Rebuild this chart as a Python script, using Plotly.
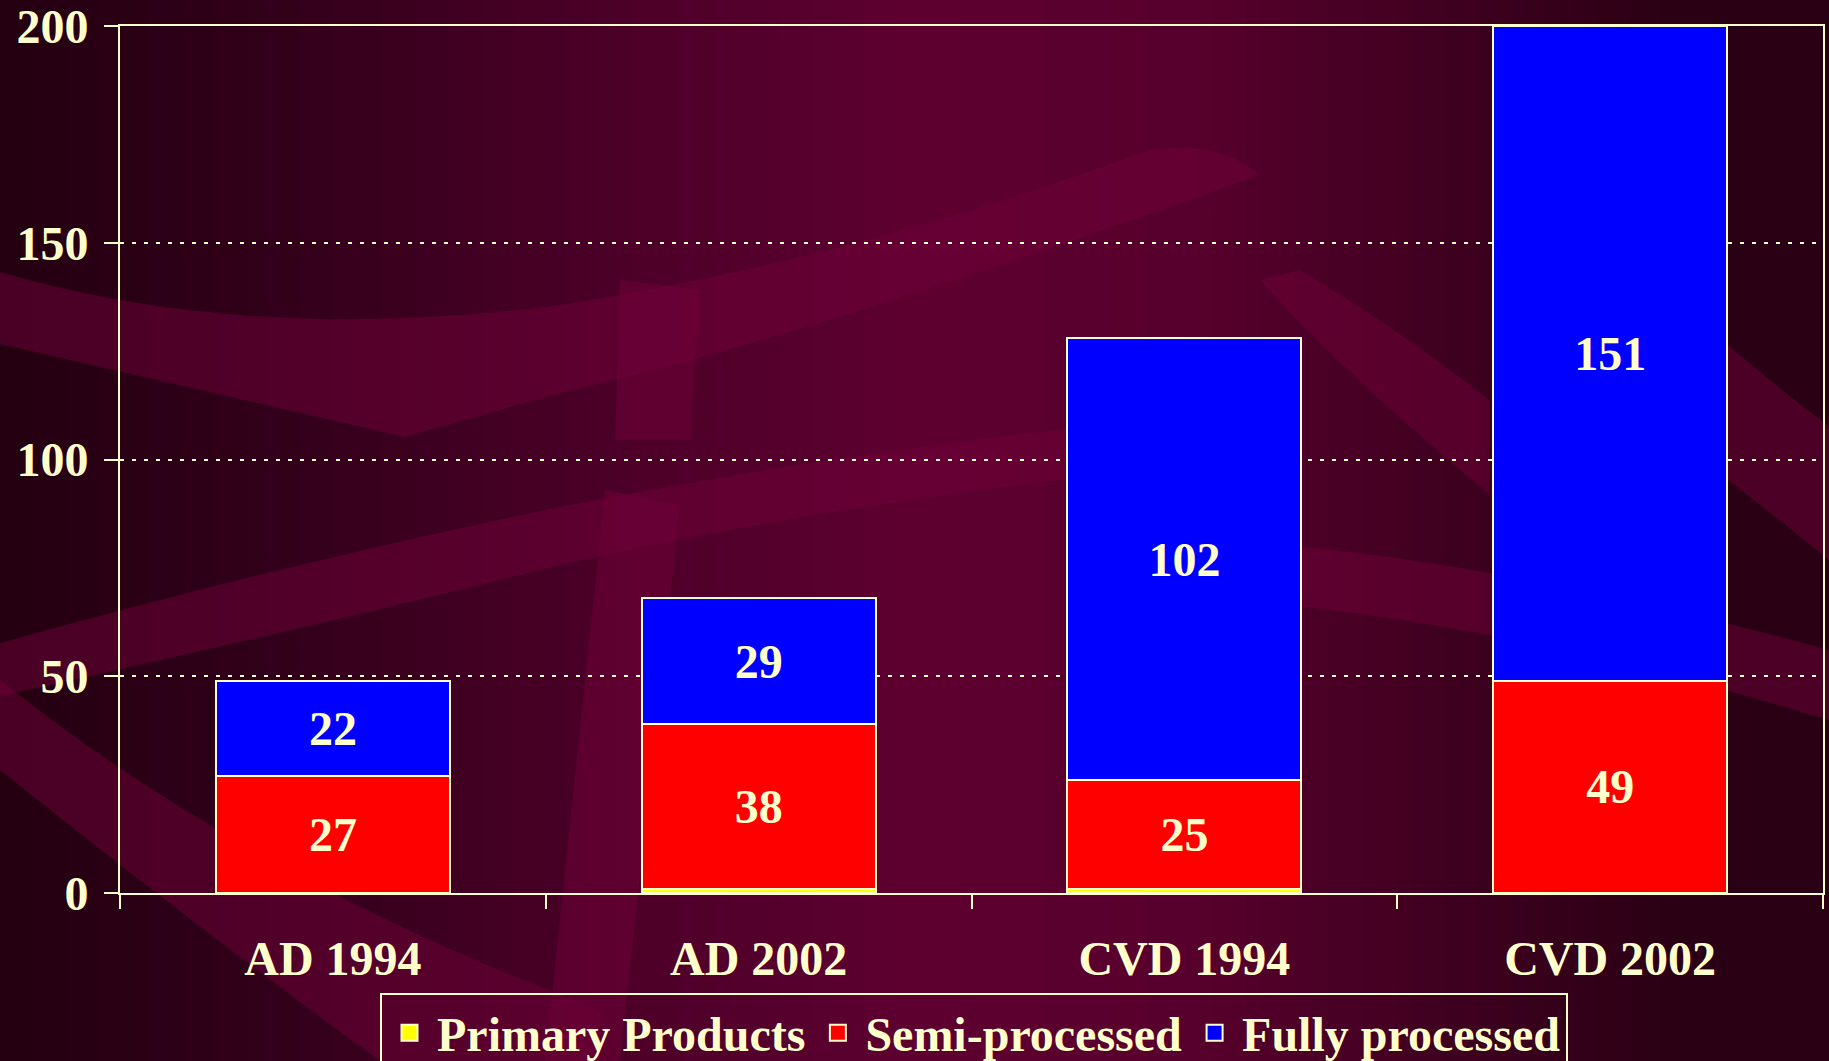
import plotly.graph_objects as go
import numpy as np

categories = ['AD 1994', 'AD 2002', 'CVD 1994', 'CVD 2002']
primary_products = [0, 1, 1, 0]
semi_processed = [27, 38, 25, 49]
fully_processed = [22, 29, 102, 151]

y_ticks = [0, 50, 100, 150, 200]

CREAM = '#FFFFCC'
FONT = 'Liberation Serif, Times New Roman, serif'

W, H = 1829, 1061
ML, MR, MT, MB = 120, 6, 26, 168
PW, PH = W - ML - MR, H - MT - MB


def px(x, y):
    # pixel position -> paper coordinates
    return (x - ML) / PW, (H - MB - y) / PH


def path(cmds):
    out = []
    for c in cmds:
        if isinstance(c, str):
            out.append(c)
        else:
            xp, yp = px(*c)
            out.append(f'{xp:.4f},{yp:.4f}')
    return ' '.join(out)


# background: horizontal gradient made of thin stripes
stops = [(0.0, (36, 0, 17)), (0.15, (50, 0, 26)), (0.35, (78, 0, 41)),
         (0.5, (94, 0, 49)), (0.65, (88, 0, 45)), (0.8, (62, 0, 31)),
         (0.92, (42, 0, 20)), (1.0, (42, 0, 20))]
shapes = []
n = 110
for i in range(n):
    t = (i + 0.5) / n
    rgb = [int(np.interp(t, [s[0] for s in stops], [s[1][k] for s in stops])) for k in range(3)]
    x0, y0 = px(i * W / n - 1, H)
    x1, y1 = px((i + 1) * W / n + 1, 0)
    shapes.append(dict(type='rect', xref='paper', yref='paper', x0=x0, x1=x1, y0=y0, y1=y1,
                       fillcolor=f'rgb({rgb[0]},{rgb[1]},{rgb[2]})', line_width=0, layer='below'))

# decorative swooshes
swooshes = [
    ['M', (0, 272), 'Q', (250, 345), (560, 305), 'Q', (850, 260), (1150, 150),
     'Q', (1220, 140), (1260, 175), 'Q', (800, 340), (560, 393), 'L', (405, 437), 'L', (0, 344), 'Z'],
    ['M', (0, 643), 'Q', (300, 560), (560, 507), 'Q', (850, 450), (1150, 420),
     'L', (1150, 470), 'Q', (850, 500), (560, 565), 'Q', (300, 630), (0, 696), 'Z'],
    ['M', (0, 680), 'Q', (250, 880), (600, 1010), 'L', (600, 1061), 'L', (380, 1061),
     'Q', (200, 930), (0, 770), 'Z'],
    ['M', (605, 490), 'L', (680, 505), 'L', (620, 1061), 'L', (545, 1061), 'Z'],
    ['M', (620, 280), 'L', (700, 290), 'L', (690, 440), 'L', (615, 440), 'Z'],
    ['M', (1230, 540), 'Q', (1500, 560), (1829, 650), 'L', (1829, 720),
     'Q', (1500, 620), (1230, 600), 'Z'],
    ['M', (1260, 280), 'Q', (1350, 380), (1489, 494), 'L', (1489, 400), 'Q', (1400, 330), (1300, 270), 'Z'],
    ['M', (1728, 345), 'Q', (1780, 390), (1829, 426), 'L', (1829, 560), 'Q', (1780, 520), (1728, 480), 'Z'],
]
for s in swooshes:
    shapes.append(dict(type='path', xref='paper', yref='paper', path=path(s),
                       fillcolor='rgba(112,0,56,0.5)', line_width=0, layer='below'))

fig = go.Figure()

series = [
    ('Primary Products', primary_products, '#FFFF00', False),
    ('Semi-processed', semi_processed, '#FF0000', True),
    ('Fully processed', fully_processed, '#0000FF', True),
]
for name, vals, color, labelled in series:
    fig.add_trace(go.Bar(
        x=categories,
        y=vals,
        name=name,
        showlegend=False,
        marker=dict(color=color, line=dict(color=CREAM, width=2)),
        text=vals if labelled else None,
        textposition='inside' if labelled else 'none',
        insidetextanchor='middle',
        textfont=dict(family=FONT, size=48, color=CREAM, weight='bold'),
        textangle=0,
    ))

# legend entries with larger square swatches
for name, vals, color, labelled in series:
    fig.add_trace(go.Scatter(
        x=[None], y=[None], mode='markers', name=name,
        marker=dict(symbol='square', size=16, color=color, line=dict(color=CREAM, width=2)),
    ))

fig.update_layout(
    width=W,
    height=H,
    barmode='stack',
    bargap=0.45,
    margin=dict(l=ML, r=MR, t=MT, b=MB, autoexpand=False),
    paper_bgcolor='#300018',
    plot_bgcolor='rgba(0,0,0,0)',
    font=dict(family=FONT, size=48, color=CREAM, weight='bold'),
    uniformtext=dict(minsize=48, mode='show'),
    shapes=shapes,
    showlegend=True,
    legend=dict(
        orientation='h',
        x=px(380, 0)[0],
        y=px(0, 993)[1],
        xanchor='left',
        yanchor='top',
        bgcolor='rgba(0,0,0,0)',
        bordercolor=CREAM,
        borderwidth=2,
        itemwidth=45,
        font=dict(family=FONT, size=48, color=CREAM, weight='bold'),
        traceorder='normal',
    ),
    xaxis=dict(
        showline=True, linecolor=CREAM, linewidth=2, mirror=True,
        ticks='outside', tickson='boundaries', ticklen=14, tickwidth=2, tickcolor=CREAM,
        ticklabelstandoff=22, showgrid=False,
    ),
    yaxis=dict(
        range=[0, 200], tickvals=y_ticks,
        showline=True, linecolor=CREAM, linewidth=2, mirror=True,
        ticks='outside', ticklen=14, tickwidth=2, tickcolor=CREAM,
        ticklabelstandoff=6, ticklabeloverflow='allow',
        showgrid=True, gridcolor=CREAM, gridwidth=2, griddash='4px,8px',
        zeroline=False,
    ),
)

fig.write_html('out.html', config={'displayModeBar': False},
               post_script="document.body.style.margin='0';document.body.style.overflow='hidden';")
